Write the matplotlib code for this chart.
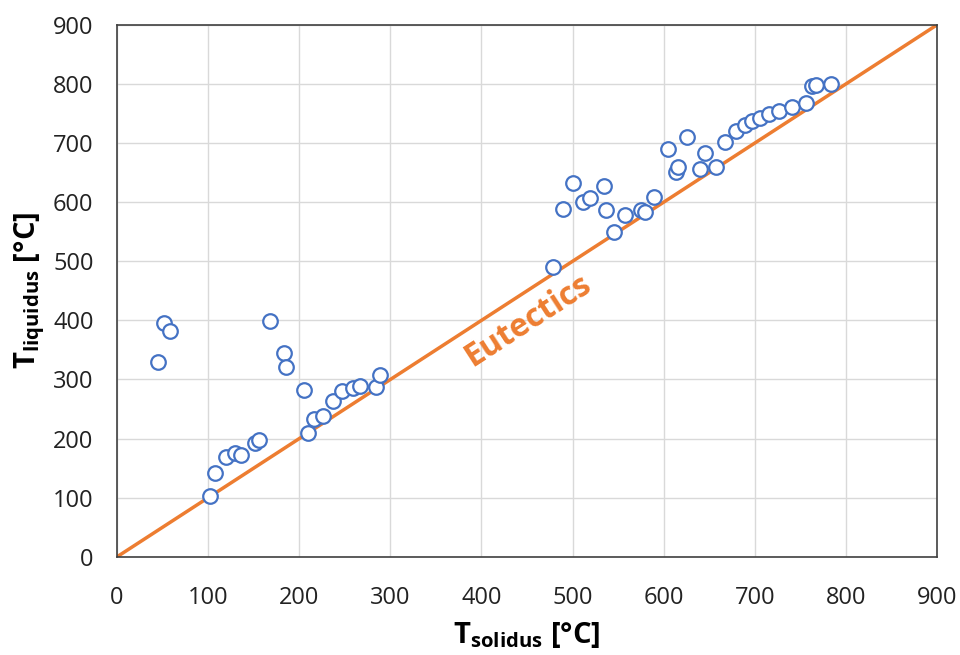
import matplotlib
matplotlib.use("Agg")
import matplotlib.pyplot as plt

# solidus / liquidus temperatures
t_solidus = [45, 52, 58, 102, 107, 119, 129, 136, 151, 156, 168, 183, 185,
             205, 210, 216, 226, 237, 247, 259, 267, 284, 289,
             479, 489, 501, 511, 519, 534, 537, 545, 558, 575, 579, 589,
             605, 613, 616, 626, 640, 645, 657,
             667, 679, 689, 697, 706, 716, 727, 741, 756, 763, 767, 784]
t_liquidus = [329, 396, 382, 103, 142, 169, 175, 173, 192, 198, 399, 344, 321,
              282, 209, 233, 238, 263, 281, 285, 289, 287, 307,
              491, 589, 632, 600, 607, 627, 586, 550, 579, 587, 584, 608,
              690, 651, 660, 710, 656, 684, 660,
              701, 720, 731, 738, 743, 750, 755, 761, 767, 796, 798, 800]
eutectic_line = [0, 900]
ticks = list(range(0, 901, 100))

plt.rcParams['font.family'] = ['Open Sans', 'DejaVu Sans']
plt.rcParams['mathtext.fontset'] = 'custom'
plt.rcParams['mathtext.bf'] = 'Open Sans:bold'
plt.rcParams['mathtext.rm'] = 'Open Sans'

fig = plt.figure(figsize=(9.6, 6.55), dpi=100)
ax = fig.add_axes([0.122, 0.150, 0.854, 0.812])

ax.plot(eutectic_line, eutectic_line, color='#ED7D31', lw=2.5, zorder=2)
ax.scatter(t_solidus, t_liquidus, s=110, facecolors='white',
           edgecolors='#4472C4', linewidths=1.6, zorder=3)

ax.text(451, 399, 'Eutectics', color='#ED7D31', fontsize=23, fontweight='bold',
        rotation=45, rotation_mode='anchor', transform_rotates_text=True,
        ha='center', va='center', zorder=4)

ax.set_xlim(0, 900)
ax.set_ylim(0, 900)
ax.set_xticks(ticks)
ax.set_yticks(ticks)
ax.tick_params(length=0, labelsize=17, colors='#222222')
ax.tick_params(axis='x', pad=21)
ax.tick_params(axis='y', pad=17)
ax.grid(True, color='#D9D9D9', lw=1)
ax.set_axisbelow(True)
for sp in ax.spines.values():
    sp.set_color('#404040')
    sp.set_linewidth(1.2)

ax.set_xlabel(r'T$_{\mathbf{solidus}}$ [°C]', fontsize=21, fontweight='bold', labelpad=7)
ax.set_ylabel(r'T$_{\mathbf{liquidus}}$ [°C]', fontsize=21, fontweight='bold', labelpad=4)

fig.savefig('out.png', dpi=100)
